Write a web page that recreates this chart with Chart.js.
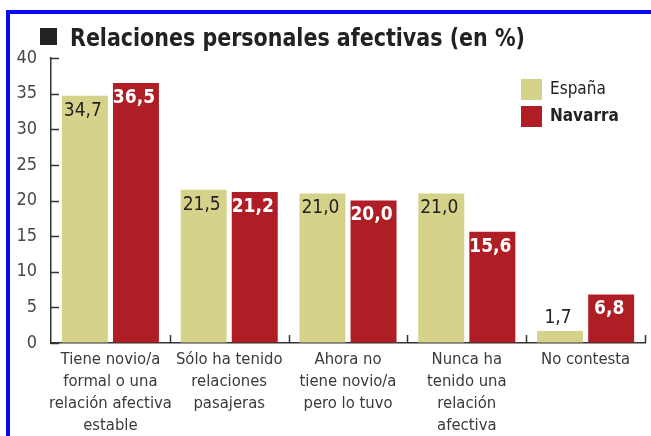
<!DOCTYPE html>
<html>
<head>
<meta charset="utf-8">
<script src="https://cdn.jsdelivr.net/npm/chart.js@4/dist/chart.umd.min.js"></script>
<style>
  html, body { margin: 0; padding: 0; background: #ffffff; width: 651px; height: 436px; overflow: hidden; }
  #wrap { position: relative; width: 651px; height: 436px; }
  #frame { position: absolute; left: 6px; top: 10px; width: 700px; height: 500px;
           border-top: 4px solid #0a0af2; border-left: 4px solid #0a0af2; pointer-events: none; }
  canvas { position: absolute; left: 0; top: 0; }
</style>
</head>
<body>
<div id="wrap">
  <canvas id="c" width="651" height="436"></canvas>
  <div id="frame"></div>
</div>
<script>
// ---- data ----
const titleText = "Relaciones personales afectivas (en %)";
const categories = [
  ["Tiene novio/a", "formal o una", "relación afectiva", "estable"],
  ["Sólo ha tenido", "relaciones", "pasajeras"],
  ["Ahora no", "tiene novio/a", "pero lo tuvo"],
  ["Nunca ha", "tenido una", "relación", "afectiva"],
  ["No contesta"]
];
const seriesNames = ["España", "Navarra"];
const espana = [34.7, 21.5, 21.0, 21.0, 1.7];
const navarra = [36.5, 21.2, 20.0, 15.6, 6.8];
const yTickValues = [0, 5, 10, 15, 20, 25, 30, 35, 40];

// ---- styles ----
const FONT = '"DejaVu Sans Condensed", "Liberation Sans Narrow", sans-serif';
const COL_ES = '#d5d38a';
const COL_NA = '#ae1e24';
const AXIS = '#333333';
const fmt = v => v.toFixed(1).replace('.', ',');

const decorPlugin = {
  id: 'decor',
  afterDraw(chart) {
    const ctx = chart.ctx;
    const xs = chart.scales.x, ys = chart.scales.y;
    const area = chart.chartArea;
    ctx.save();
    // inward tick marks
    ctx.strokeStyle = AXIS;
    ctx.lineWidth = 1.5;
    ys.ticks.forEach((t, i) => {
      const py = Math.round(ys.getPixelForTick(i)) + 0.5;
      ctx.beginPath();
      ctx.moveTo(area.left, py);
      ctx.lineTo(area.left + 8, py);
      ctx.stroke();
    });
    const n = xs.ticks.length;
    const w = (area.right - area.left) / n;
    for (let i = 1; i <= n; i++) {
      const px = Math.round(xs.getPixelForTick(i - 1) + w / 2) + 0.5;
      ctx.beginPath();
      ctx.moveTo(px, area.bottom);
      ctx.lineTo(px, area.bottom - 8);
      ctx.stroke();
    }
    // title
    ctx.fillStyle = '#222222';
    ctx.fillRect(40, 28, 17, 17);
    ctx.font = 'bold 24px ' + FONT;
    ctx.textBaseline = 'alphabetic';
    ctx.textAlign = 'left';
    const tw = ctx.measureText(titleText).width;
    const targetW = 455;
    ctx.save();
    ctx.translate(70, 45.5);
    ctx.scale(targetW / tw, 1);
    ctx.fillText(titleText, 0, 0);
    ctx.restore();
    // legend
    const lg = [{y: 79, bold: false}, {y: 106, bold: true}];
    chart.data.datasets.forEach((ds, i) => {
      ctx.fillStyle = ds.backgroundColor;
      ctx.fillRect(521, lg[i].y, 21, 21);
      ctx.fillStyle = '#222222';
      ctx.font = (lg[i].bold ? 'bold ' : '') + '17px ' + FONT;
      ctx.textBaseline = 'middle';
      ctx.fillText(ds.label, 550, lg[i].y + 11);
    });
    ctx.restore();
  },
  afterDatasetsDraw(chart) {
    const ctx = chart.ctx;
    ctx.save();
    ctx.textAlign = 'center';
    ctx.textBaseline = 'middle';
    chart.data.datasets.forEach((ds, di) => {
      const meta = chart.getDatasetMeta(di);
      meta.data.forEach((el, i) => {
        const v = ds.data[i];
        const inside = v >= 5;
        const y = inside ? el.y + 15 : el.y - 13;
        if (di === 0) {
          ctx.font = '19px ' + FONT;
          ctx.fillStyle = '#222222';
        } else {
          ctx.font = 'bold 19px ' + FONT;
          ctx.fillStyle = inside ? '#ffffff' : '#222222';
        }
        ctx.fillText(fmt(v), el.x - 2, y);
      });
    });
    ctx.restore();
  }
};

new Chart(document.getElementById('c'), {
  type: 'bar',
  data: {
    labels: categories,
    datasets: [
      { label: seriesNames[0], data: espana, backgroundColor: COL_ES },
      { label: seriesNames[1], data: navarra, backgroundColor: COL_NA }
    ]
  },
  options: {
    responsive: false,
    animation: false,
    devicePixelRatio: 1,
    layout: { padding: { top: 58, right: 6, left: 0, bottom: 0 } },
    datasets: { bar: { categoryPercentage: 0.86, barPercentage: 0.9 } },
    plugins: {
      legend: { display: false },
      title: { display: false },
      tooltip: { enabled: false }
    },
    scales: {
      y: {
        min: yTickValues[0],
        max: yTickValues[yTickValues.length - 1],
        afterBuildTicks(scale) { scale.ticks = yTickValues.map(v => ({ value: v })); },
        afterFit(scale) { scale.width = 51; },
        grid: { drawOnChartArea: false, drawTicks: false },
        border: { color: AXIS, width: 1.5 },
        ticks: { padding: 14, color: '#484848', font: { family: FONT, size: 18 } }
      },
      x: {
        afterFit(scale) { scale.height = 93; },
        grid: { drawOnChartArea: false, drawTicks: false },
        border: { color: AXIS, width: 1.5 },
        ticks: { padding: 6, color: '#3a3a3a', maxRotation: 0, autoSkip: false,
                 font: { family: FONT, size: 16.5, lineHeight: '22px' } }
      }
    }
  },
  plugins: [decorPlugin]
});
</script>
</body>
</html>
